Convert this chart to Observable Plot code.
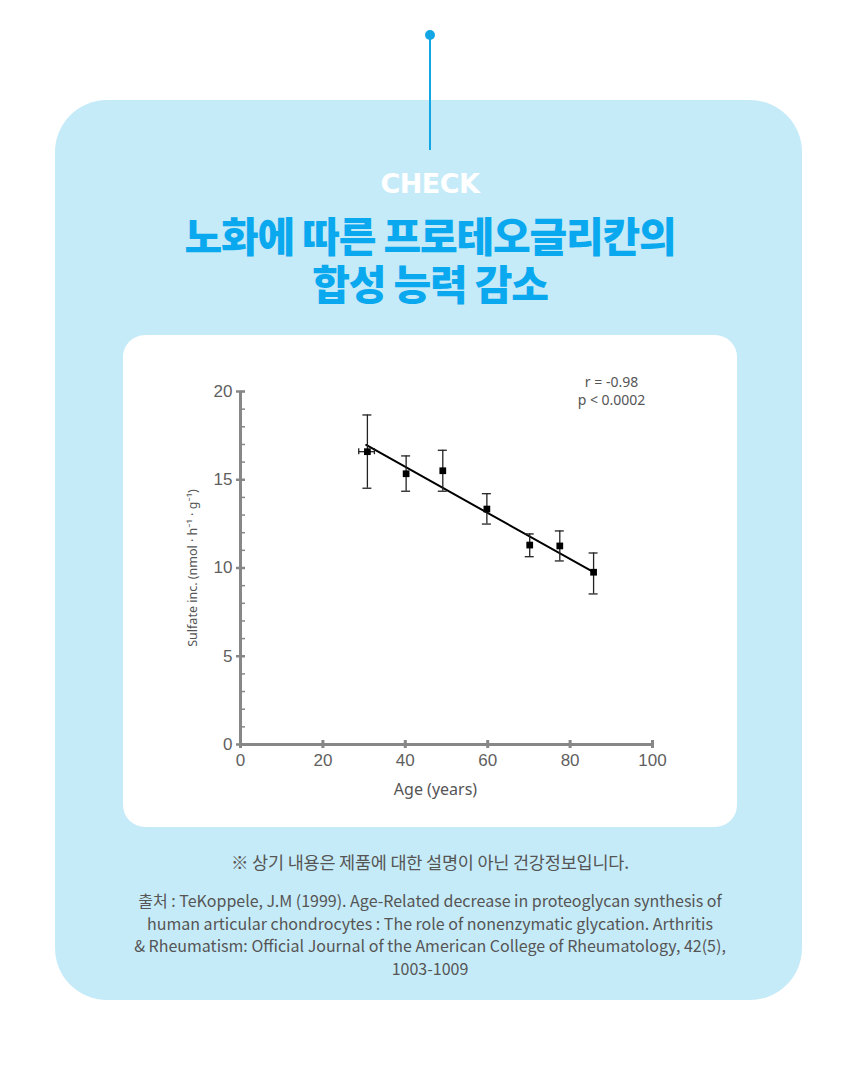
<!DOCTYPE html>
<html>
<head>
<meta charset="utf-8">
<script src="https://cdn.jsdelivr.net/npm/d3@7"></script>
<script src="https://cdn.jsdelivr.net/npm/@observablehq/plot@0.6"></script>
<style>
  html, body { margin: 0; padding: 0; background: #ffffff; }
  body { width: 860px; height: 1080px; position: relative; overflow: hidden; font-family: "Noto Sans CJK KR", "Noto Sans", sans-serif; }
  .card { position: absolute; left: 55px; top: 100px; width: 747px; height: 900px; border-radius: 52px; background: #c6ebf8; }
  .pin-dot { position: absolute; left: 425px; top: 30px; width: 10px; height: 10px; border-radius: 50%; background: #12a6e4; }
  .pin-line { position: absolute; left: 429px; top: 35px; width: 2px; height: 115px; background: #12a6e4; }
  .check { position: absolute; left: 0; width: 860px; top: 169px; line-height: 30px; text-align: center; color: #ffffff; font-family: "DejaVu Sans", sans-serif; font-weight: bold; font-size: 27px; letter-spacing: -0.5px; }
  .title { position: absolute; left: 0; width: 860px; height: 46px; line-height: 46px; text-align: center; color: #0aa8ee; font-family: "Noto Sans CJK KR", sans-serif; font-weight: 900; font-size: 41px; letter-spacing: -1.2px; white-space: nowrap; }
  .t1 { top: 211px; }
  .t2 { top: 259px; }
  .panel { position: absolute; left: 123px; top: 335px; width: 614px; height: 492px; border-radius: 22px; background: #ffffff; }
  #chart { position: absolute; left: 123px; top: 360px; width: 614px; height: 450px; }
  .note { position: absolute; left: 0; width: 860px; top: 851px; line-height: 22px; text-align: center; color: #555; font-size: 17.5px; letter-spacing: -0.2px; }
  .source { position: absolute; left: 0; width: 860px; top: 889px; line-height: 22.5px; text-align: center; color: #555; font-size: 16px; letter-spacing: 0px; }
</style>
</head>
<body>
<div class="card"></div>
<div class="pin-line"></div>
<div class="pin-dot"></div>
<div class="check">CHECK</div>
<div class="title t1">노화에 따른 프로테오글리칸의</div>
<div class="title t2">합성 능력 감소</div>
<div class="panel"></div>
<div id="chart"></div>
<div class="note">※ 상기 내용은 제품에 대한 설명이 아닌 건강정보입니다.</div>
<div class="source">출처 : TeKoppele, J.M (1999). Age-Related decrease in proteoglycan synthesis of<br>human articular chondrocytes : The role of nonenzymatic glycation. Arthritis<br>&amp; Rheumatism: Official Journal of the American College of Rheumatology, 42(5),<br>1003-1009</div>
<script>
// ---- data ----
const ages     = [30.8, 40.2, 49.1, 59.8, 70.2, 77.5, 85.7];
const sulfate  = [16.59, 15.34, 15.51, 13.34, 11.30, 11.25, 9.76];
const errHigh  = [18.67, 16.35, 16.67, 14.21, 11.93, 12.10, 10.85];
const errLow   = [14.52, 14.35, 14.35, 12.49, 10.64, 10.40, 8.53];
// horizontal error bar (first group only)
const ageErrLow  = [28.7];
const ageErrHigh = [32.5];
// regression line end points
const fitAge     = [30.5, 85.7];
const fitSulfate = [16.97, 9.76];
// axes
const xTicks = [0, 20, 40, 60, 80, 100];
const yTicks = [0, 5, 10, 15, 20];
const yMinorTicks = d3.range(0, 21, 1);
const annotation = "r = -0.98\np < 0.0002";
const xLabel = "Age (years)";
const yLabel = "Sulfate inc. (nmol · h⁻¹ · g⁻¹)";

const points = ages.map((a, i) => ({age: a, value: sulfate[i], hi: errHigh[i], lo: errLow[i]}));
const hbars = ageErrLow.map((lo, i) => ({lo, hi: ageErrHigh[i], value: sulfate[i]}));
const fit = fitAge.map((a, i) => ({age: a, value: fitSulfate[i]}));

const axisColor = "#878787";
const barColor = "#222";

const chart = Plot.plot({
  width: 614,
  height: 450,
  marginLeft: 117,
  marginRight: 85,
  marginTop: 31,
  marginBottom: 66,
  x: {domain: [xTicks[0], xTicks[xTicks.length - 1]]},
  y: {domain: [yTicks[0], yTicks[yTicks.length - 1]]},
  style: {background: "transparent", fontFamily: "'Liberation Sans', Arial, sans-serif", overflow: "visible"},
  marks: [
    // axis lines
    Plot.ruleY([yTicks[0]], {x1: xTicks[0], x2: xTicks[xTicks.length - 1], stroke: axisColor, strokeWidth: 3}),
    Plot.ruleX([xTicks[0]], {y1: yTicks[0], y2: yTicks[yTicks.length - 1], stroke: axisColor, strokeWidth: 3}),
    // x ticks
    Plot.ruleX(xTicks, {x: d => d, y1: yTicks[0], y2: yTicks[0], insetTop: -4, insetBottom: -4, stroke: axisColor, strokeWidth: 3}),
    // y minor ticks
    Plot.ruleY(yMinorTicks, {y: d => d, x1: xTicks[0], x2: xTicks[0], insetLeft: 0, insetRight: -5, stroke: axisColor, strokeWidth: 1.5}),
    // y major ticks
    Plot.ruleY(yTicks, {y: d => d, x1: xTicks[0], x2: xTicks[0], insetLeft: -4, insetRight: -5, stroke: axisColor, strokeWidth: 2.5}),
    Plot.axisX({ticks: xTicks, tickSize: 0, tickPadding: 9, fontSize: 17, color: "#5f5f5f", label: null}),
    Plot.axisY({ticks: yTicks, tickSize: 0, tickPadding: 8, fontSize: 17, color: "#5f5f5f", label: null}),
    // axis titles
    Plot.text([xLabel], {frameAnchor: "bottom", text: d => d, dx: -11, dy: 45, lineAnchor: "middle", fontSize: 16, fill: "#555", fontFamily: "'Noto Sans', 'Open Sans', sans-serif"}),
    Plot.text([yLabel], {frameAnchor: "left", text: d => d, dx: -48, rotate: -90, textAnchor: "middle", lineAnchor: "middle", fontSize: 12.5, fill: "#555", fontFamily: "'Noto Sans', 'Open Sans', sans-serif"}),
    // annotation
    Plot.text([annotation], {frameAnchor: "top-right", text: d => d, dx: -41, dy: -1, textAnchor: "middle", lineAnchor: "middle", lineHeight: 1.3, fontSize: 14, fill: "#555", fontFamily: "'Noto Sans', 'Open Sans', sans-serif"}),
    // regression line
    Plot.line(fit, {x: "age", y: "value", stroke: "#000", strokeWidth: 2}),
    // vertical error bars
    Plot.ruleX(points, {x: "age", y1: "lo", y2: "hi", stroke: barColor, strokeWidth: 1.3}),
    Plot.ruleY(points, {y: "hi", x1: "age", x2: "age", insetLeft: -4.5, insetRight: -4.5, stroke: barColor, strokeWidth: 1.3}),
    Plot.ruleY(points, {y: "lo", x1: "age", x2: "age", insetLeft: -4.5, insetRight: -4.5, stroke: barColor, strokeWidth: 1.3}),
    // horizontal error bars
    Plot.ruleY(hbars, {y: "value", x1: "lo", x2: "hi", stroke: barColor, strokeWidth: 1.3}),
    Plot.ruleX(hbars, {x: "lo", y1: "value", y2: "value", insetTop: -3, insetBottom: -3, stroke: barColor, strokeWidth: 1.3}),
    Plot.ruleX(hbars, {x: "hi", y1: "value", y2: "value", insetTop: -3, insetBottom: -3, stroke: barColor, strokeWidth: 1.3}),
    // points
    Plot.dot(points, {x: "age", y: "value", symbol: "square", r: 3.8, fill: "#000", stroke: null})
  ]
});
document.getElementById("chart").appendChild(chart);
</script>
</body>
</html>
